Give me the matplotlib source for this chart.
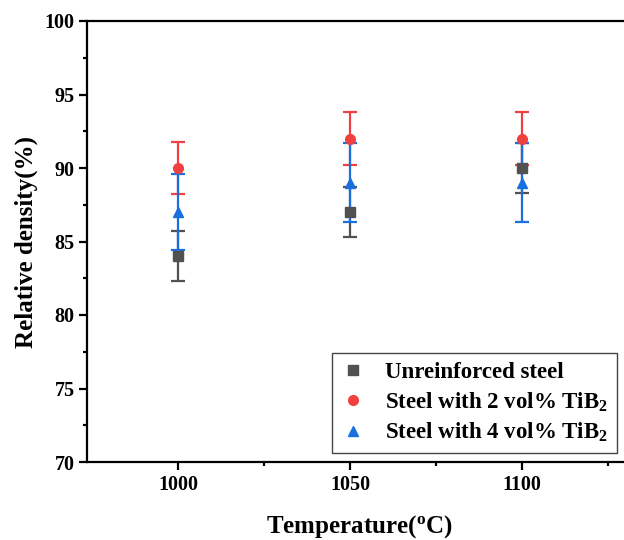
import matplotlib
matplotlib.use('Agg')
import matplotlib.pyplot as plt

# data
temps = [1000, 1050, 1100]
plain = [84, 87, 90]
plain_err = [1.7, 1.7, 1.7]
tib2_2 = [90, 92, 92]
tib2_2_err = [1.8, 1.8, 1.8]
tib2_4 = [87, 89, 89]
tib2_4_err = [2.6, 2.7, 2.7]

labels = ['Unreinforced steel', 'Steel with 2 vol% TiB$_2$', 'Steel with 4 vol% TiB$_2$']

GREY = '#515151'
RED = '#F14040'
BLUE = '#1A6FDF'

plt.rcParams['font.family'] = 'Liberation Serif'
plt.rcParams['font.weight'] = 'bold'
plt.rcParams['mathtext.fontset'] = 'custom'
plt.rcParams['mathtext.rm'] = 'Liberation Serif:bold'
plt.rcParams['mathtext.bf'] = 'Liberation Serif:bold'
plt.rcParams['mathtext.it'] = 'Liberation Serif:bold'

fig = plt.figure(figsize=(6.24, 5.4), dpi=100)
# right spine sits outside the picture, as in the cropped original
ax = fig.add_axes([87 / 624, 78 / 540, 545 / 624, 441 / 540])

series = [
    (plain, plain_err, GREY, 's'),
    (tib2_2, tib2_2_err, RED, 'o'),
    (tib2_4, tib2_4_err, BLUE, '^'),
]
handles = []
for (vals, errs, col, mk), lab in zip(series, labels):
    ax.errorbar(temps, vals, yerr=errs, fmt='none', ecolor=col,
                elinewidth=1.6, capsize=5, capthick=1.6, zorder=2)
    h, = ax.plot(temps, vals, linestyle='none', marker=mk, color=col,
                 markersize=7, label=lab, zorder=3)
    handles.append(h)

ax.set_xlim(973.5, 1132)
ax.set_ylim(70, 100)
ax.set_xticks([1000, 1050, 1100])
ax.set_xticks([1025, 1075, 1125], minor=True)
ax.set_yticks([70, 75, 80, 85, 90, 95, 100])
ax.set_yticks([72.5, 77.5, 82.5, 87.5, 92.5, 97.5], minor=True)

for s in ax.spines.values():
    s.set_linewidth(1.6)
ax.tick_params(which='major', direction='out', length=6, width=1.6,
               labelsize=14.5, pad=3)
ax.tick_params(which='minor', direction='out', length=3, width=1.6)

ax.set_ylabel('Relative density(%)', fontsize=18, fontweight='bold')
ax.yaxis.set_label_coords(-0.112, 0.5)
ax.yaxis.label.set_va('center')
ax.set_xlabel('Temperature($^{\\mathrm{o}}$C)', fontsize=18, fontweight='bold')
ax.xaxis.set_label_coords(0.5, -0.115)
ax.xaxis.label.set_va('top')

leg = ax.legend(handles=handles, loc='lower right',
                bbox_to_anchor=(617 / 624, 87 / 540),
                bbox_transform=fig.transFigure,
                fancybox=False, edgecolor='#444444', framealpha=1,
                prop={'family': 'Liberation Serif', 'weight': 'bold', 'size': 16.5},
                handlelength=1.0, handletextpad=0.9, labelspacing=0.3,
                borderpad=0.4, borderaxespad=0)
leg.get_frame().set_linewidth(1.0)

fig.savefig('out.png', dpi=100)
